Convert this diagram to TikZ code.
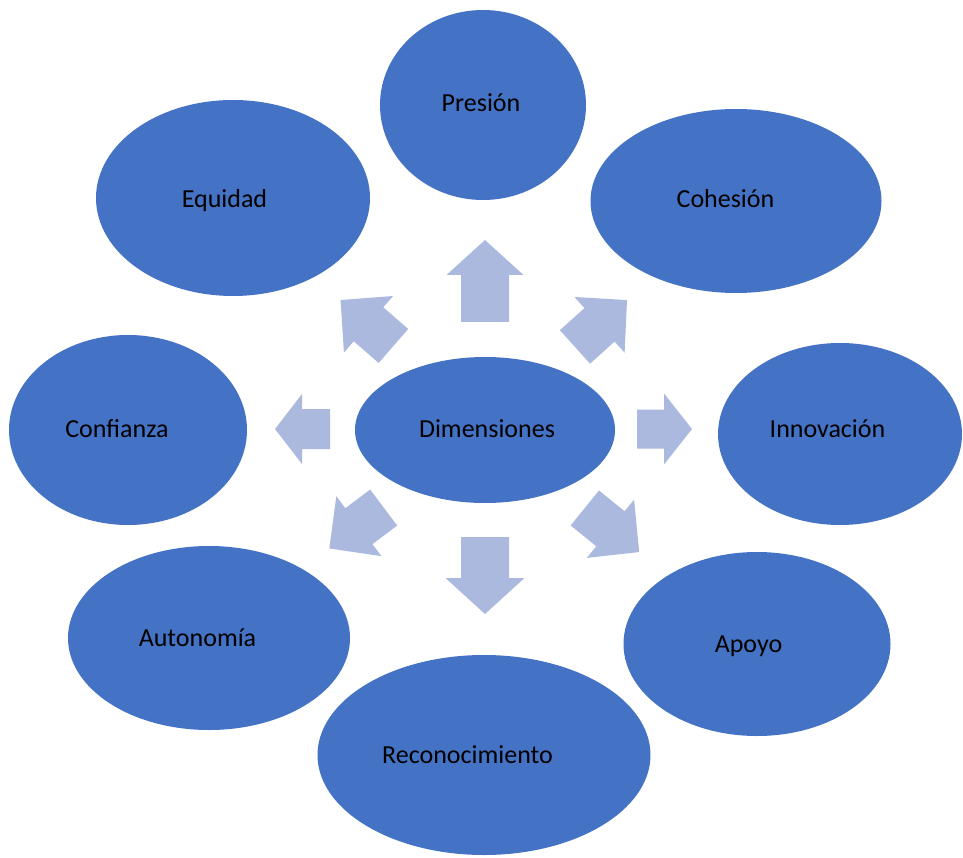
\documentclass[tikz,border=0pt]{standalone}
\usepackage{fontspec}
\setmainfont{Carlito}
\usetikzlibrary{shapes.geometric}
\definecolor{ellblue}{HTML}{4472C4}
\definecolor{arrblue}{HTML}{ABB9DE}
\tikzset{
  ell/.style={ellipse, fill=ellblue, draw=none, inner sep=0pt, outer sep=0pt},
  lbl/.style={font=\fontsize{26}{30}\selectfont, text=black, inner sep=0pt, text height=0.644em, text depth=0pt, anchor=center, yshift=-5pt},
  arrfill/.style={fill=arrblue, draw=none}
}
% cx cy angle length shaftwidth headwidth headlength
\newcommand{\blockarr}[7]{%
  \begin{scope}[shift={(#1,#2)},rotate=#3]
    \path[arrfill] (-#4/2,-#5/2) -- (#4/2-#7,-#5/2) -- (#4/2-#7,-#6/2) -- (#4/2,0)
      -- (#4/2-#7,#6/2) -- (#4/2-#7,#5/2) -- (-#4/2,#5/2) -- cycle;
  \end{scope}}
\begin{document}
\begin{tikzpicture}[x=1pt,y=-1pt]
\useasboundingbox (0,0) rectangle (963,858);
% ellipses
\node[ell, minimum width=206, minimum height=190] (presion) at (483,105) {};
\node[ell, minimum width=291, minimum height=184] (cohesion) at (736,201) {};
\node[ell, minimum width=274, minimum height=196] (equidad) at (233,198) {};
\node[ell, minimum width=238, minimum height=190] (confianza) at (128,430) {};
\node[ell, minimum width=260, minimum height=146] (dimensiones) at (485,430) {};
\node[ell, minimum width=244, minimum height=182] (innovacion) at (840,434) {};
\node[ell, minimum width=282, minimum height=184] (autonomia) at (209,638) {};
\node[ell, minimum width=267, minimum height=184] (apoyo) at (757,644) {};
\node[ell, minimum width=333, minimum height=200] (reconocimiento) at (484,755) {};
% labels
\node[lbl] (tpresion) at (481,103) {Presión};
\node[lbl] (tcohesion) at (725.5,199) {Cohesión};
\node[lbl] (tequidad) at (224.5,199) {Equidad};
\node[lbl] (tconfianza) at (117,429) {Confianza};
\node[lbl] (tdimensiones) at (487,429) {Dimensiones};
\node[lbl] (tinnovacion) at (827.5,429) {Innovación};
\node[lbl] (tautonomia) at (197.5,638) {Autonomía};
\node[lbl] (tapoyo) at (748.5,644) {Apoyo};
\node[lbl] (treconocimiento) at (467.5,755) {Reconocimiento};
% block arrows
\blockarr{485}{281}{90}{82}{48}{77}{35}
\blockarr{485}{575.5}{-90}{77}{48}{79}{36}
\blockarr{664.5}{429}{0}{55}{39}{71}{28}
\blockarr{302.5}{429}{180}{55}{40}{70}{27}
\blockarr{601}{323.5}{42}{70}{45}{75}{37}
\blockarr{612}{530}{-39}{70}{45}{75}{37}
\blockarr{356.5}{528}{-143}{68}{45}{75}{37}
\blockarr{367}{323}{139}{70}{45}{75}{37}
\end{tikzpicture}
\end{document}
